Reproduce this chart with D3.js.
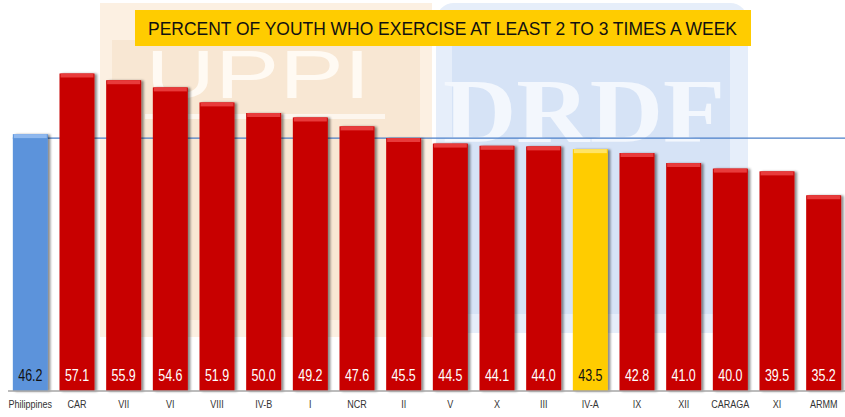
<!DOCTYPE html>
<html>
<head>
<meta charset="utf-8">
<script src="https://cdn.jsdelivr.net/npm/d3@7"></script>
<style>
  body { margin: 0; background: #fff; }
  svg { display: block; }
</style>
</head>
<body>
<div id="chart"></div>
<script>
const categories = ["Philippines", "CAR", "VII", "VI", "VIII", "IV-B", "I", "NCR", "II", "V", "X", "III", "IV-A", "IX", "XII", "CARAGA", "XI", "ARMM"]
const values = [46.2, 57.1, 55.9, 54.6, 51.9, 50.0, 49.2, 47.6, 45.5, 44.5, 44.1, 44.0, 43.5, 42.8, 41.0, 40.0, 39.5, 35.2]
const title = "PERCENT OF YOUTH WHO EXERCISE AT LEAST 2 TO 3 TIMES A WEEK"
const refCategory = "Philippines"
const highlight = "IV-A"

const width = 845, height = 417
const baseY = 391
const font = "Liberation Sans, Arial, sans-serif"

const data = categories.map((c, i) => ({cat: c, value: values[i]}))

const svg = d3.select("#chart").append("svg")
    .attr("width", width)
    .attr("height", height)

const defs = svg.append("defs")
const shadow = defs.append("filter").attr("id", "shadow")
    .attr("x", "-20%").attr("y", "-5%").attr("width", "150%").attr("height", "110%")
shadow.append("feDropShadow")
    .attr("dx", 2.5).attr("dy", 0.5).attr("stdDeviation", 1.2)
    .attr("flood-color", "#000").attr("flood-opacity", 0.45)

// faint logo watermarks behind the plot
const wm = svg.append("g").attr("class", "watermark")
wm.append("rect").attr("x", 100).attr("y", 3).attr("width", 332).attr("height", 334).attr("fill", "#fcf0e2")
wm.append("rect").attr("x", 112).attr("y", 40).attr("width", 308).attr("height", 280).attr("fill", "#f8e7d3")
wm.append("rect").attr("x", 145).attr("y", 114).attr("width", 240).attr("height", 5).attr("fill", "#fdf6ee")
wm.append("text").attr("x", 258).attr("y", 98).attr("text-anchor", "middle")
    .attr("font-family", font).attr("font-size", 68)
    .attr("fill", "#fffaf3").attr("textLength", 225).attr("lengthAdjust", "spacingAndGlyphs").text("UPPI")
wm.append("rect").attr("x", 436).attr("y", 3).attr("width", 312).attr("height", 330).attr("rx", 18).attr("fill", "#e6eefa")
wm.append("rect").attr("x", 452).attr("y", 14).attr("width", 278).attr("height", 300).attr("rx", 14).attr("fill", "#d6e3f6")
wm.append("text").attr("x", 584).attr("y", 142).attr("text-anchor", "middle")
    .attr("font-family", "Liberation Serif, Times New Roman, serif").attr("font-size", 92).attr("font-weight", "bold")
    .attr("fill", "#f3f7fd").attr("textLength", 282).attr("lengthAdjust", "spacingAndGlyphs").text("DRDF")

const x = d3.scaleBand()
    .domain(categories)
    .range([7, 847])
    .paddingInner(0.25)
    .paddingOuter(0.125)

const y = d3.scaleLinear()
    .domain([0, 70])
    .range([baseY, baseY - 5.56 * 70])

// reference line at the national value
const refVal = values[categories.indexOf(refCategory)]
svg.append("line")
    .attr("x1", x(refCategory)).attr("x2", width)
    .attr("y1", y(refVal) + 4).attr("y2", y(refVal) + 4)
    .attr("stroke", "#4a7fc8").attr("stroke-width", 1.2)

const fillOf = d => d.cat === refCategory ? "#5b93db" : d.cat === highlight ? "#ffcc00" : "#c80000"
const topOf = d => d.cat === refCategory ? "#8fb8ee" : d.cat === highlight ? "#ffe466" : "#e83a3a"

const bars = svg.append("g").selectAll("g")
    .data(data)
    .join("g")
      .attr("filter", "url(#shadow)")

bars.append("rect")
    .attr("x", d => x(d.cat))
    .attr("y", d => y(d.value))
    .attr("width", x.bandwidth())
    .attr("height", d => baseY - y(d.value))
    .attr("fill", fillOf)

// bevel on top
bars.append("rect")
    .attr("x", d => x(d.cat) + 1)
    .attr("y", d => y(d.value))
    .attr("width", x.bandwidth() - 2)
    .attr("height", 4)
    .attr("fill", topOf)

svg.append("g")
    .attr("transform", `translate(0,${baseY})`)
    .call(d3.axisBottom(x).tickSize(0).tickPadding(9))
    .call(g => g.select(".domain").attr("stroke", "#a6a6a6").attr("stroke-width", 1.5).attr("d", `M8,0H${width}`))
    .call(g => g.selectAll("text")
        .attr("font-family", font)
        .attr("font-size", 11)
        .attr("fill", "#333")
        .attr("transform", "scale(0.82,1)"))

svg.append("g").selectAll("text")
    .data(data)
    .join("text")
      .attr("transform", d => `translate(${x(d.cat) + x.bandwidth() / 2},${baseY - 10}) scale(0.78,1)`)
      .attr("text-anchor", "middle")
      .attr("font-family", font)
      .attr("font-size", 16)
      .attr("fill", d => d.cat === refCategory || d.cat === highlight ? "#111" : "#fff")
      .text(d => d3.format(".1f")(d.value))

// title box
svg.append("rect")
    .attr("x", 135).attr("y", 10)
    .attr("width", 616).attr("height", 36)
    .attr("fill", "#ffcc00")
svg.append("text")
    .attr("x", 148).attr("y", 35)
    .attr("font-family", font)
    .attr("font-size", 19)
    .attr("fill", "#111")
    .attr("textLength", 589)
    .attr("lengthAdjust", "spacingAndGlyphs")
    .text(title)
</script>
</body>
</html>
